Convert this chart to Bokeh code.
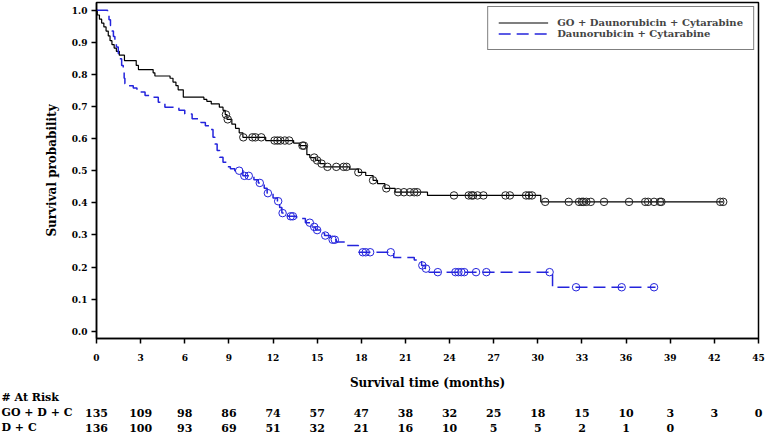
from bisect import bisect_right
from bokeh.plotting import figure
from bokeh.models import Range1d, FixedTicker, PrintfTickFormatter
from bokeh.core.properties import value
from bokeh.embed import file_html
from bokeh.resources import INLINE

# ---------------- data ----------------
go_label = "GO + Daunorubicin + Cytarabine"
dc_label = "Daunorubicin + Cytarabine"

go_t = [0, 0.05, 0.2, 0.35, 0.5, 0.65, 0.8, 0.92, 1.05, 1.2, 1.35, 1.55, 1.9, 2.7, 2.85,
        3.85, 3.97, 5.0, 5.2, 5.4, 5.55, 5.9, 7.3, 7.5, 7.8, 8.35, 8.6, 8.75, 8.87, 9.2,
        9.45, 9.7, 9.95, 11.5, 13.4, 13.8, 14.3, 14.5, 14.9, 15.2, 15.5, 17.2, 17.8, 18.3,
        18.8, 19.1, 19.6, 20.3, 22.5, 30.2, 42.6]
go_s = [1.0, 0.985, 0.972, 0.96, 0.948, 0.935, 0.92, 0.905, 0.893, 0.882, 0.872, 0.86, 0.843,
        0.828, 0.815, 0.805, 0.795, 0.788, 0.776, 0.765, 0.752, 0.729, 0.722, 0.716, 0.708,
        0.698, 0.688, 0.675, 0.660, 0.645, 0.632, 0.618, 0.604, 0.594, 0.586, 0.578, 0.550,
        0.541, 0.532, 0.522, 0.512, 0.505, 0.495, 0.485, 0.470, 0.460, 0.445, 0.433, 0.423,
        0.403, 0.403]
go_cens = [8.8, 8.92, 9.98, 10.6, 10.8, 11.2, 12.1, 12.3, 12.5, 12.8, 13.1, 14.0, 14.1, 14.8,
           15.0, 15.3, 15.7, 16.3, 16.8, 17.0, 17.8, 18.8, 19.7, 20.5, 20.9, 21.3, 21.6, 21.8,
           24.3, 25.3, 25.5, 25.6, 25.9, 26.3, 27.8, 28.1, 29.2, 29.4, 29.6, 30.5, 32.1, 32.8,
           33.0, 33.1, 33.3, 33.6, 34.5, 36.2, 37.3, 37.5, 37.9, 38.3, 38.4, 42.4, 42.6]

dc_t = [0, 0.75, 0.85, 0.95, 1.05, 1.15, 1.25, 1.35, 1.48, 1.6, 1.71, 1.82, 1.88, 1.93, 2.15,
        2.5, 2.75, 3.3, 3.85, 4.2, 4.65, 5.6, 6.0, 6.5, 7.1, 7.4, 7.7, 7.92, 8.05, 8.2, 8.37,
        8.6, 8.85, 9.1, 9.4, 9.95, 10.7, 11.0, 11.4, 11.6, 12.0, 12.3, 12.45, 12.6, 13.0, 13.6,
        14.2, 14.6, 14.9, 15.2, 15.5, 15.9, 16.3, 17.0, 17.8, 20.2, 21.6, 22.1, 22.35, 22.5,
        31.0, 38.0]
dc_s = [1.0, 0.985, 0.97, 0.952, 0.935, 0.918, 0.9, 0.885, 0.865, 0.849, 0.828, 0.807, 0.788,
        0.771, 0.765, 0.758, 0.745, 0.734, 0.729, 0.713, 0.698, 0.688, 0.677, 0.662, 0.650,
        0.640, 0.628, 0.604, 0.583, 0.563, 0.542, 0.526, 0.512, 0.506, 0.500, 0.484, 0.472,
        0.462, 0.445, 0.430, 0.415, 0.405, 0.385, 0.368, 0.358, 0.351, 0.338, 0.325, 0.315,
        0.305, 0.298, 0.285, 0.278, 0.267, 0.246, 0.230, 0.222, 0.205, 0.195, 0.184, 0.137,
        0.137]
dc_cens = [9.7, 10.05, 10.35, 11.1, 11.65, 12.35, 12.65, 13.2, 13.35, 14.5, 14.8, 15.0, 15.55,
           16.05, 16.2, 18.1, 18.3, 18.6, 20.0, 22.15, 22.4, 23.2, 24.4, 24.6, 24.8, 25.0,
           25.8, 26.5, 30.8, 32.6, 35.7, 37.9]

x_ticks = list(range(0, 46, 3))
y_ticks = [0.0, 0.1, 0.2, 0.3, 0.4, 0.5, 0.6, 0.7, 0.8, 0.9, 1.0]

risk_title = "# At Risk"
risk_rows = ["GO + D + C", "D + C"]
risk_times = [0, 3, 6, 9, 12, 15, 18, 21, 24, 27, 30, 33, 36, 39, 42, 45]
go_risk = [135, 109, 98, 86, 74, 57, 47, 38, 32, 25, 18, 15, 10, 3, 3, 0]
dc_risk = [136, 100, 93, 69, 51, 32, 21, 16, 10, 5, 5, 2, 1, 0]

# ---------------- style ----------------
FONT = "DejaVu Serif"
BLUE = "#2424dc"
W, H = 766, 436
LEFT, RIGHT, TOP, FRAME_H, BOTTOM = 96, 8, 2, 336, 54
MAIN_H = TOP + FRAME_H + BOTTOM
RISK_H = H - MAIN_H
X0, X1, Y0, Y1 = 0, 45, -0.0227, 1.024
ROW_PX = 15          # spacing of the at-risk rows
ROW_TOP = 5          # centre of first at-risk row below the main figure

px_x = (W - LEFT - RIGHT) / (X1 - X0)   # pixels per month


def level_at(ts, ss, t):
    return ss[bisect_right(ts, t) - 1]


p = figure(width=W, height=MAIN_H,
           x_range=Range1d(X0, X1), y_range=Range1d(Y0, Y1),
           output_backend="svg", toolbar_location=None,
           min_border_left=LEFT, min_border_right=RIGHT,
           min_border_top=TOP, min_border_bottom=BOTTOM)
p.grid.visible = False
p.outline_line_color = "black"
p.outline_line_width = 1.5

p.xaxis.ticker = FixedTicker(ticks=x_ticks)
p.yaxis.ticker = FixedTicker(ticks=y_ticks)
p.yaxis.formatter = PrintfTickFormatter(format="%.1f")
p.xaxis.axis_label = "Survival time (months)"
p.yaxis.axis_label = "Survival probability"
for ax in (p.xaxis[0], p.yaxis[0]):
    ax.axis_line_width = 1.5
    ax.major_tick_line_width = 1.5
    ax.major_tick_out = 5
    ax.major_tick_in = 0
    ax.minor_tick_line_color = None
    ax.major_label_text_font = FONT
    ax.major_label_text_font_style = "bold"
    ax.major_label_text_font_size = "9px"
    ax.major_label_text_color = "black"
    ax.axis_label_text_font = FONT
    ax.axis_label_text_font_style = "bold"
    ax.axis_label_text_font_size = "12px"
    ax.axis_label_text_color = "black"
p.xaxis.major_label_standoff = 10
p.xaxis.axis_label_standoff = 12
p.yaxis.major_label_standoff = 4
p.yaxis.axis_label_standoff = 10

p.step(x=go_t, y=go_s, mode="after", line_color="black", line_width=1.2,
       legend_label=go_label)
p.step(x=dc_t, y=dc_s, mode="after", line_color=BLUE, line_width=1.5,
       line_dash="12 6", legend_label=dc_label)

p.scatter(x=go_cens, y=[level_at(go_t, go_s, t) for t in go_cens], size=7.5,
          fill_color=None, line_color="#222222", line_width=1)
p.scatter(x=dc_cens, y=[level_at(dc_t, dc_s, t) for t in dc_cens], size=7.5,
          fill_color=None, line_color=BLUE, line_width=1)

lg = p.legend[0]
lg.location = "top_right"
lg.margin = 4
lg.padding = 10
lg.spacing = 0
lg.label_height = 11
lg.glyph_height = 11
lg.glyph_width = 50
lg.label_standoff = 9
lg.label_text_font = FONT
lg.label_text_font_style = "bold"
lg.label_text_font_size = "10px"
lg.label_text_baseline = "middle"
lg.border_line_color = "black"
lg.border_line_width = 1.5
lg.background_fill_alpha = 1

# ---------------- at-risk table: a second root with the same month scale ----------------
rx0 = X0 - LEFT / px_x
rx1 = X1 + RIGHT / px_x
ry1 = 2 + ROW_TOP / ROW_PX
ry0 = ry1 - RISK_H / ROW_PX
r = figure(width=W, height=RISK_H, x_range=Range1d(rx0, rx1), y_range=Range1d(ry0, ry1),
           output_backend="svg", toolbar_location=None,
           x_axis_type=None, y_axis_type=None, min_border=0)
r.grid.visible = False
r.outline_line_color = None

txt = dict(text_font=value(FONT), text_font_size="11px", text_font_style="bold",
           text_color="black", text_baseline="middle")
r.text(x=[rx0 + 1 / px_x] * 3, y=[2, 1, 0], text=[risk_title] + risk_rows,
       text_align="left", **txt)
r.text(x=risk_times[:len(go_risk)], y=[1] * len(go_risk), text=[str(v) for v in go_risk],
       text_align="center", **txt)
r.text(x=risk_times[:len(dc_risk)], y=[0] * len(dc_risk), text=[str(v) for v in dc_risk],
       text_align="center", **txt)

open("out.html", "w").write(file_html([p, r], INLINE))
